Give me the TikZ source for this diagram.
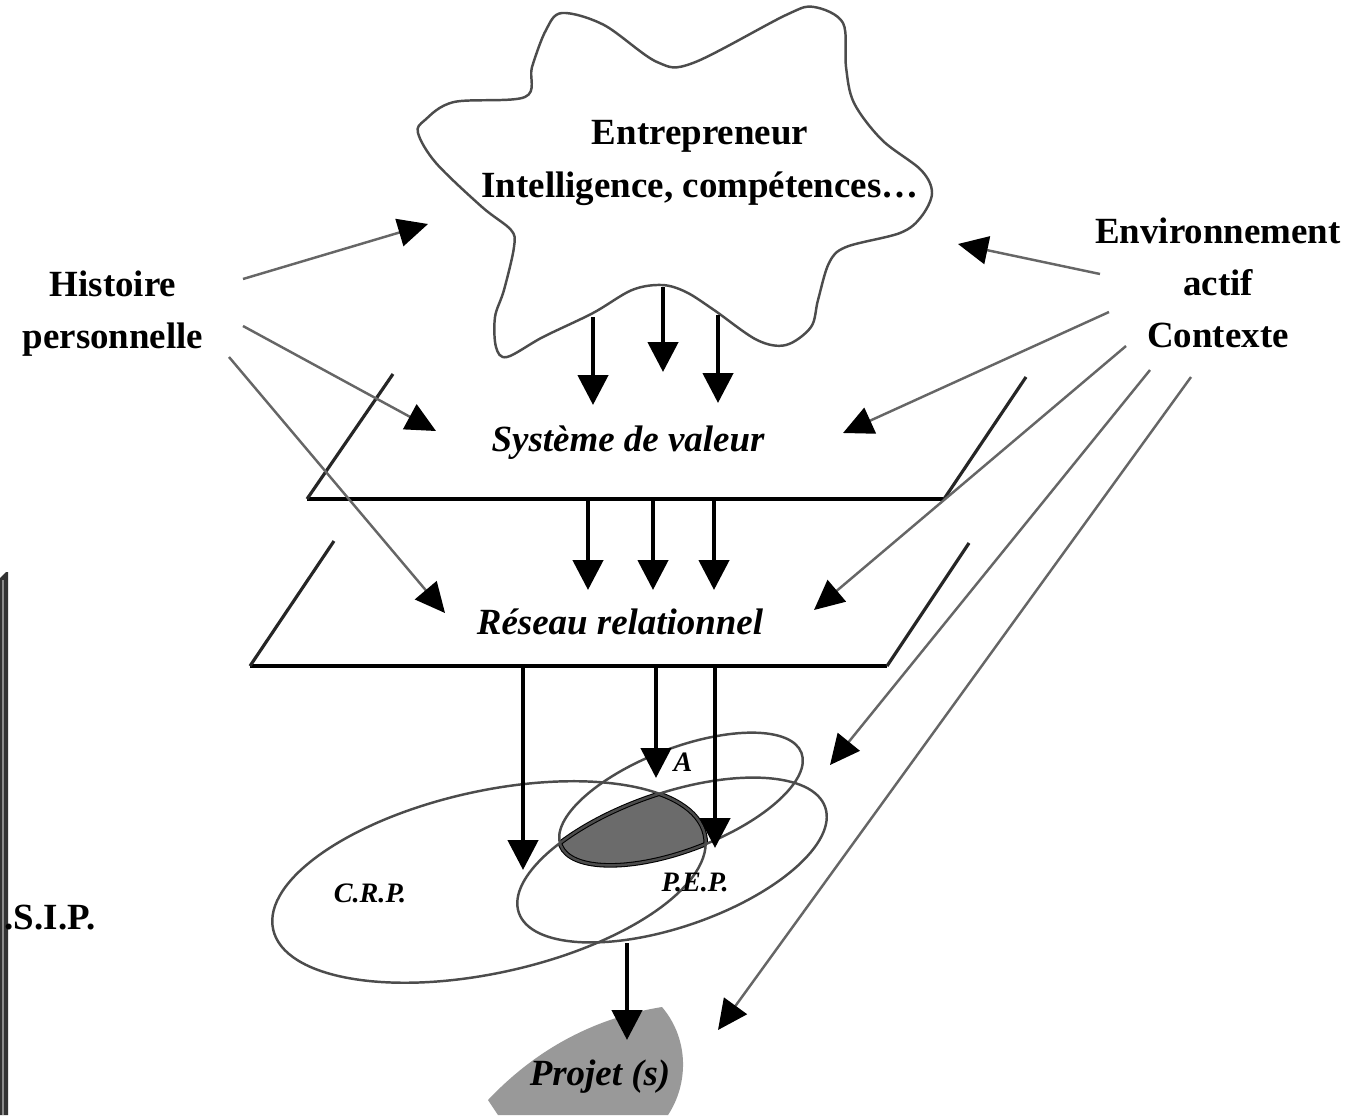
\documentclass[tikz,border=0pt]{standalone}
\usepackage{fontspec}
\setmainfont{Liberation Serif}
\usetikzlibrary{arrows.meta}

\begin{document}
\begin{tikzpicture}[x=0.01cm,y=-0.01cm,
  lbl/.style={font=\fontsize{10.5}{14.8}\selectfont\bfseries, align=center},
  ilbl/.style={font=\fontsize{10.5}{13}\selectfont\bfseries\itshape},
  small/.style={font=\fontsize{8}{10}\selectfont\bfseries\itshape, inner sep=0pt},
  down/.style={line width=1.3pt, -{Triangle[width=8.5pt,length=8.5pt]}},
  infl/.style={black!60, line width=0.7pt, -{Triangle[width=8pt,length=8.5pt,color=black]}},
  plane/.style={line width=1.4pt},
  planeside/.style={line width=0.9pt, black!85},
  loop/.style={black!70, line width=0.7pt},
  rim/.style={line width=1.3pt}]
\useasboundingbox (0,0) rectangle (1355,1115);

\draw[loop] plot[smooth cycle, tension=0.55] coordinates {(562,13) (604,25) (657,62) (693,63) (786,15) (814,7) (843,23) (846,67) (854,103) (882,140) (921,170) (932,193) (921,217) (900,233) (846,247) (829,263) (818,300) (811,327) (786,345) (757,340) (714,310) (686,292) (662,285) (632,290) (593,313) (543,337) (507,357) (496,347) (495,317) (504,290) (514,247) (511,230) (482,207) (436,163) (418,133) (425,120) (454,102) (525,97) (532,67) (546,30)};
\node[lbl] (entr) at (700,163) {Entrepreneur\\Intelligence, compétences\dots};

\node[lbl] (hist) at (113,314) {Histoire\\personnelle};
\node[lbl] (env) at (1218,283) {Environnement\\actif\\Contexte};

% plans
\coordinate (svBL) at (307,499); \coordinate (svBR) at (944,499);
\draw[plane] (svBL) -- (svBR);
\draw[planeside] (svBL) -- (393,374);
\draw[planeside] (svBR) -- (1026,377);
\node[ilbl] (sys) at (628,443) {Système de valeur};

\coordinate (rrBL) at (250,666); \coordinate (rrBR) at (887,666);
\draw[plane] (rrBL) -- (rrBR);
\draw[planeside] (rrBL) -- (334,541);
\draw[planeside] (rrBR) -- (969,543);
\node[ilbl] (res) at (620,622) {Réseau relationnel};

% ensembles A, P.E.P., C.R.P.
\coordinate (cA) at (681,799); \coordinate (cP) at (672,860); \coordinate (cC) at (489,882);
\begin{scope}
  \clip[rotate around={21:(cA)}] (cA) ellipse [x radius=129, y radius=51];
  \clip[rotate around={12.4:(cC)}] (cC) ellipse [x radius=221, y radius=91];
  \fill[black!58] [rotate around={19:(cP)}] (cP) ellipse [x radius=162, y radius=67];
  \draw[rim] [rotate around={19:(cP)}] (cP) ellipse [x radius=162, y radius=67];
\end{scope}
\begin{scope}
  \clip[rotate around={19:(cP)}] (cP) ellipse [x radius=162, y radius=67];
  \clip[rotate around={12.4:(cC)}] (cC) ellipse [x radius=221, y radius=91];
  \draw[rim] [rotate around={21:(cA)}] (cA) ellipse [x radius=129, y radius=51];
\end{scope}
\begin{scope}
  \clip[rotate around={19:(cP)}] (cP) ellipse [x radius=162, y radius=67];
  \clip[rotate around={21:(cA)}] (cA) ellipse [x radius=129, y radius=51];
  \draw[rim] [rotate around={12.4:(cC)}] (cC) ellipse [x radius=221, y radius=91];
\end{scope}
\draw[loop] [rotate around={21:(cA)}] (cA) ellipse [x radius=129, y radius=51];
\draw[loop] [rotate around={19:(cP)}] (cP) ellipse [x radius=162, y radius=67];
\draw[loop] [rotate around={12.4:(cC)}] (cC) ellipse [x radius=221, y radius=91];
\node[small] (a) at (683,762) {A};
\node[small] (crp) at (370,893) {C.R.P.};
\node[small] (pep) at (695,882) {P.E.P.};

\fill[black!40] (488,1100) .. controls (540,1045) and (600,1017) .. (662,1007) .. controls (690,1040) and (688,1085) .. (668,1115) -- (498,1115) -- cycle;
\node[ilbl] (proj) at (600,1077) {Projet (s)};

\foreach \x/\a/\b [count=\i] in {593/317/405,663/287/372,718/315/403}{
  \coordinate (cl\i) at (\x,\a);
  \coordinate (sv\i) at (\x,\b);
  \draw[down] (cl\i) -- (sv\i);
}
\foreach \x [count=\i] in {588,653,714}{
  \coordinate (sb\i) at (\x,501);
  \coordinate (rr\i) at (\x,590);
  \draw[down] (sb\i) -- (rr\i);
}
\foreach \x/\b [count=\i] in {523/870,656/778,715/848}{
  \coordinate (rb\i) at (\x,668);
  \coordinate (en\i) at (\x,\b);
  \draw[down] (rb\i) -- (en\i);
}
\coordinate (pepB) at (627,943); \coordinate (projT) at (627,1040);
\draw[down] (pepB) -- (projT);

\foreach \s/\e in {{(243,279)}/{(428,224)},{(243,326)}/{(436,431)},{(229,357)}/{(445,613)}}
  \draw[infl] \s -- \e;
\foreach \s/\e in {{(1100,274)}/{(958,244)},{(1109,312)}/{(843,433)},{(1126,346)}/{(814,610)},{(1150,370)}/{(830,765)},{(1191,377)}/{(718,1030)}}
  \draw[infl] \s -- \e;

\fill[black!80] (0,578) -- (6,572) -- (8,572) -- (8,1115) -- (0,1115) -- cycle;
\fill[black!45] (2,580) rectangle (4,1115);
\node[lbl, anchor=west, inner sep=0pt] (psip) at (4,918) {.S.I.P.};
\end{tikzpicture}
\end{document}
